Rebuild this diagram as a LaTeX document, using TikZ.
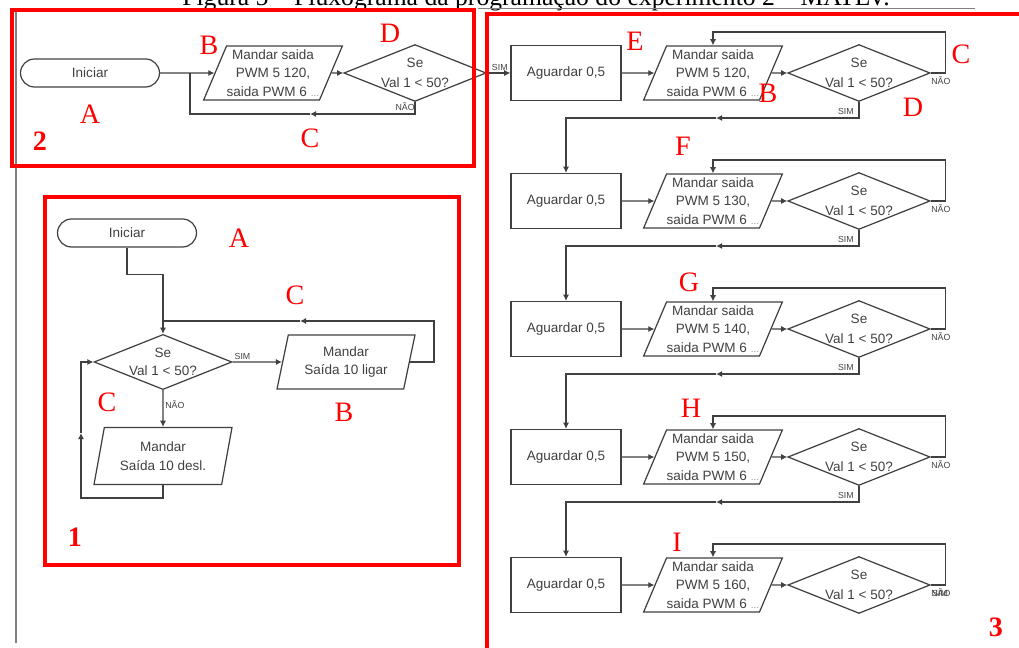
\documentclass[tikz,border=0pt]{standalone}
\usepackage{fontspec}
\setmainfont{Liberation Serif}
\newfontfamily\fluxo{Liberation Sans}
\usetikzlibrary{shapes.geometric,arrows.meta,positioning}

\newcommand{\reticencias}{{\color{gray}\fontsize{5}{5}\selectfont\ldots}}

\begin{document}
\begin{tikzpicture}[x=0.02cm,y=-0.02cm,
    >={Latex[length=3.5pt,width=3.5pt]},
    color=black!75, line width=0.7pt,
    bloco/.style={draw, inner sep=0pt, align=center,
      font=\fluxo\fontsize{7.7}{10.5}\selectfont},
    terminal/.style={bloco, rounded corners=0.28cm,
      minimum width=2.78cm, minimum height=0.56cm},
    caixa/.style={bloco, minimum width=2.2cm, minimum height=1.1cm},
    entrada/.style={bloco, trapezium, trapezium left angle=64,
      trapezium right angle=116, trapezium stretches body,
      minimum width=2.76cm, minimum height=1.08cm},
    entrada1/.style={entrada, trapezium left angle=70,
      trapezium right angle=110},
    decisao/.style={bloco, diamond, aspect=2.5,
      minimum width=2.72cm, minimum height=1.08cm},
    mini/.style={inner sep=1pt, font=\fluxo\fontsize{5}{5}\selectfont},
    letra/.style={text=red, inner sep=0pt, font=\fontsize{16}{16}\selectfont},
    numero/.style={letra, font=\bfseries\fontsize{16}{16}\selectfont},
    moldura/.style={draw=red, line width=2.3pt}]
  \useasboundingbox (0,0) rectangle (1019,648);

  % titulo cortado
  \node[anchor=base, text=black, font=\fontsize{14.6}{14.6}\selectfont] (titulo) at (536,6)
    {Figura 5 -- Fluxograma da programação do experimento 2 -- MATLV.};
  \draw[gray, line width=0.5pt] (478,8) -- (975,8);
  \draw[gray, line width=0.8pt] (16,10) -- (16,643);

  % painel 2
  \node[terminal] (iniP) at (90,73) {Iniciar};
  \node[entrada] (pwmP) at (273,73) {Mandar saida\\PWM 5 120,\\saida PWM 6 \reticencias};
  \node[decisao] (seP) at (415,73) {Se\\[1pt]Val 1 < 50?};
  \coordinate (jP) at (190,73);
  \coordinate (rP) at (310,114);
  \draw[->] (iniP) -- (pwmP);
  \draw[->] (pwmP) -- (seP);
  \draw[->] (seP.south) |- (rP);
  \draw (rP) -| (jP);
  \node[mini, anchor=east] (naoP) at (417,107) {NÃO};

  % painel 1
  \node[terminal] (iniA) at (127,233) {Iniciar};
  \node[decisao] (seA) at (163,362) {Se\\Val 1 < 50?};
  \node[entrada1] (ligA) at (346,362) {Mandar\\Saída 10 ligar};
  \node[entrada1, minimum height=1.14cm] (desA) at (163,456) {Mandar\\Saída 10 desl.};
  \coordinate (jA) at (163,321);
  \coordinate (rA) at (300,321);
  \coordinate (uA) at (81,433);
  \draw[->] (iniA.south) -- ++(0,27) -| (seA.north);
  \draw[->] (seA) -- node[mini, above, pos=0.2] {SIM} (ligA);
  \draw[->] (seA) -- node[mini, right, pos=0.4] {NÃO} (desA);
  \draw[->] (ligA.east) -- ++(24,0) |- (rA);
  \draw (rA) -- (jA);
  \draw[->] (desA.south) -- ++(0,13) -| (uA);
  \draw[->] (uA) |- (seA.west);

  % painel 3
  \foreach \k/\v/\l/\lx/\ly in {0/120/E/635/41, 1/130/F/683/146, 2/140/G/689/282,
      3/150/H/691/408, 4/160/I/677/542}{
    \pgfmathsetmacro{\y}{73+128*\k}
    \node[caixa] (agu\k) at (566,\y) {Aguardar 0,5};
    \node[entrada] (pwm\k) at (713,\y) {Mandar saida\\PWM 5 \v,\\saida PWM 6 \reticencias};
    \node[decisao] (se\k) at (859,\y) {Se\\[1pt]Val 1 < 50?};
    \coordinate (t\k) at (832,\y-41);
    \draw[->] (agu\k) -- (pwm\k);
    \draw[->] (pwm\k) -- (se\k);
    \draw (se\k.east) -- ++(15,0) |- (t\k);
    \draw[->] (t\k) -| (pwm\k.north);
    \node[letra] (let\k) at (\lx,\ly) {\l};
  }
  \foreach \k in {0,...,3}{
    \pgfmathtruncatemacro{\n}{\k+1}
    \pgfmathsetmacro{\y}{73+128*\k}
    \coordinate (b\k) at (716,\y+45);
    \draw[->] (se\k.south) |- (b\k);
    \draw[->] (b\k) -| (agu\n.north);
    \node[mini, anchor=east] (sim\k) at (856,\y+38) {SIM};
    \node[mini, anchor=west] (nao\k) at (929,\y+8) {NÃO};
  }
  \node[mini, anchor=west] (nao4) at (929,593) {NÃO};
  \node[mini, anchor=west] (sim4) at (930,593) {SIM};
  \draw[->] (seP) -- node[mini, above, pos=0.55] {SIM} (agu0);

  % letras vermelhas
  \node[letra] (bP) at (209,45) {B};
  \node[letra] (dP) at (390,33) {D};
  \node[letra] (aP) at (90,114) {A};
  \node[letra] (cP) at (310,138) {C};
  \node[numero] (nP) at (40,141) {2};
  \node[letra] (aA) at (239,238) {A};
  \node[letra] (cA) at (295,295) {C};
  \node[letra] (ccA) at (107,402) {C};
  \node[letra] (bA) at (344,412) {B};
  \node[numero] (nA) at (75,537) {1};
  \node[letra] (bE) at (768,93) {B};
  \node[letra] (cE) at (961,54) {C};
  \node[letra] (dE) at (913,107) {D};
  \node[numero] (nE) at (996,627) {3};

  % molduras
  \draw[moldura] (12,10) rectangle (474,166);
  \draw[moldura] (45,197) rectangle (459,565);
  \draw[moldura] (487,14) rectangle (1040,670);
\end{tikzpicture}
\end{document}
